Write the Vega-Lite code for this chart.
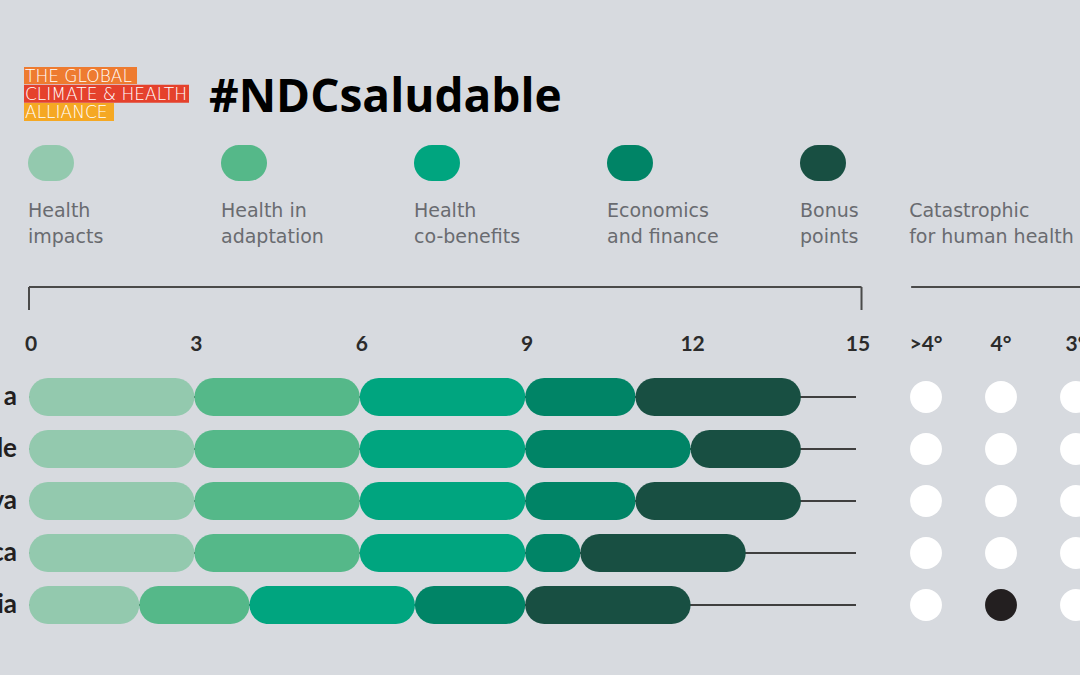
{
  "$schema": "https://vega.github.io/schema/vega-lite/v6.json",
  "width": 1080,
  "height": 675,
  "autosize": {"type": "none"},
  "padding": 0,
  "background": "#D7DADF",
  "config": {"view": {"stroke": "transparent"}, "font": "Lato"},
  "datasets": {
    "scores": [
      {"country": "a", "cat": "Health impacts", "k": 1, "value": 3},
      {"country": "a", "cat": "Health in adaptation", "k": 2, "value": 3},
      {"country": "a", "cat": "Health co-benefits", "k": 3, "value": 3},
      {"country": "a", "cat": "Economics and finance", "k": 4, "value": 2},
      {"country": "a", "cat": "Bonus points", "k": 5, "value": 3},
      {"country": "le", "cat": "Health impacts", "k": 1, "value": 3},
      {"country": "le", "cat": "Health in adaptation", "k": 2, "value": 3},
      {"country": "le", "cat": "Health co-benefits", "k": 3, "value": 3},
      {"country": "le", "cat": "Economics and finance", "k": 4, "value": 3},
      {"country": "le", "cat": "Bonus points", "k": 5, "value": 2},
      {"country": "va", "cat": "Health impacts", "k": 1, "value": 3},
      {"country": "va", "cat": "Health in adaptation", "k": 2, "value": 3},
      {"country": "va", "cat": "Health co-benefits", "k": 3, "value": 3},
      {"country": "va", "cat": "Economics and finance", "k": 4, "value": 2},
      {"country": "va", "cat": "Bonus points", "k": 5, "value": 3},
      {"country": "ca", "cat": "Health impacts", "k": 1, "value": 3},
      {"country": "ca", "cat": "Health in adaptation", "k": 2, "value": 3},
      {"country": "ca", "cat": "Health co-benefits", "k": 3, "value": 3},
      {"country": "ca", "cat": "Economics and finance", "k": 4, "value": 1},
      {"country": "ca", "cat": "Bonus points", "k": 5, "value": 3},
      {"country": "ia", "cat": "Health impacts", "k": 1, "value": 2},
      {"country": "ia", "cat": "Health in adaptation", "k": 2, "value": 2},
      {"country": "ia", "cat": "Health co-benefits", "k": 3, "value": 3},
      {"country": "ia", "cat": "Economics and finance", "k": 4, "value": 2},
      {"country": "ia", "cat": "Bonus points", "k": 5, "value": 3}
    ],
    "countries": [
      {"country": "a"}, {"country": "le"}, {"country": "va"}, {"country": "ca"}, {"country": "ia"}
    ],
    "ticks": [{"tick": 0}, {"tick": 3}, {"tick": 6}, {"tick": 9}, {"tick": 12}, {"tick": 15}],
    "temps": [{"temp": ">4°"}, {"temp": "4°"}, {"temp": "3°"}],
    "dots": [
      {"country": "a", "temp": ">4°", "catastrophic": false},
      {"country": "a", "temp": "4°", "catastrophic": false},
      {"country": "a", "temp": "3°", "catastrophic": false},
      {"country": "le", "temp": ">4°", "catastrophic": false},
      {"country": "le", "temp": "4°", "catastrophic": false},
      {"country": "le", "temp": "3°", "catastrophic": false},
      {"country": "va", "temp": ">4°", "catastrophic": false},
      {"country": "va", "temp": "4°", "catastrophic": false},
      {"country": "va", "temp": "3°", "catastrophic": false},
      {"country": "ca", "temp": ">4°", "catastrophic": false},
      {"country": "ca", "temp": "4°", "catastrophic": false},
      {"country": "ca", "temp": "3°", "catastrophic": false},
      {"country": "ia", "temp": ">4°", "catastrophic": false},
      {"country": "ia", "temp": "4°", "catastrophic": true},
      {"country": "ia", "temp": "3°", "catastrophic": false}
    ],
    "legend": [
      {"cat": "Health impacts", "label": "Health\nimpacts"},
      {"cat": "Health in adaptation", "label": "Health in\nadaptation"},
      {"cat": "Health co-benefits", "label": "Health\nco-benefits"},
      {"cat": "Economics and finance", "label": "Economics\nand finance"},
      {"cat": "Bonus points", "label": "Bonus\npoints"}
    ],
    "logo": [
      {"line": "THE GLOBAL"},
      {"line": "CLIMATE & HEALTH"},
      {"line": "ALLIANCE"}
    ]
  },
  "resolve": {"scale": {"x": "independent", "y": "independent", "color": "independent"}},
  "layer": [
    {
      "data": {"values": [{}]},
      "mark": {"type": "rule", "stroke": "#4a4a4a", "strokeWidth": 2},
      "encoding": {
        "x": {"datum": 0, "type": "quantitative", "scale": {"domain": [0, 15], "range": [29, 856], "nice": false, "zero": false}, "axis": null},
        "x2": {"datum": 15.1},
        "y": {"datum": 0, "type": "quantitative", "scale": {"domain": [0, 1], "range": [287, 310], "nice": false, "zero": false}, "axis": null}
      }
    },
    {
      "data": {"values": [{}]},
      "mark": {"type": "rule", "stroke": "#4a4a4a", "strokeWidth": 2},
      "encoding": {
        "x": {"datum": 0, "type": "quantitative", "scale": {"domain": [0, 15], "range": [29, 856], "nice": false, "zero": false}, "axis": null},
        "y": {"datum": 0, "type": "quantitative", "scale": {"domain": [0, 1], "range": [287, 310], "nice": false, "zero": false}, "axis": null},
        "y2": {"datum": 1}
      }
    },
    {
      "data": {"values": [{}]},
      "mark": {"type": "rule", "stroke": "#4a4a4a", "strokeWidth": 2},
      "encoding": {
        "x": {"datum": 15.1, "type": "quantitative", "scale": {"domain": [0, 15], "range": [29, 856], "nice": false, "zero": false}, "axis": null},
        "y": {"datum": 0, "type": "quantitative", "scale": {"domain": [0, 1], "range": [287, 310], "nice": false, "zero": false}, "axis": null},
        "y2": {"datum": 1}
      }
    },
    {
      "data": {"values": [{}]},
      "mark": {"type": "rule", "stroke": "#4a4a4a", "strokeWidth": 2},
      "encoding": {
        "x": {"datum": 16, "type": "quantitative", "scale": {"domain": [0, 15], "range": [29, 856], "nice": false, "zero": false}, "axis": null},
        "x2": {"datum": 19.5},
        "y": {"datum": 0, "type": "quantitative", "scale": {"domain": [0, 1], "range": [287, 310], "nice": false, "zero": false}, "axis": null}
      }
    },
    {
      "data": {"name": "countries"},
      "mark": {"type": "rule", "stroke": "#3f3f3f", "strokeWidth": 2},
      "encoding": {
        "x": {"datum": 0, "type": "quantitative", "scale": {"domain": [0, 15], "range": [29, 856], "nice": false, "zero": false}, "axis": null},
        "x2": {"datum": 15},
        "y": {"field": "country", "type": "nominal", "scale": {"type": "point", "domain": ["header", "a", "le", "va", "ca", "ia"], "range": [345, 605], "padding": 0}, "axis": null}
      }
    },
    {
      "data": {"name": "scores"},
      "transform": [
        {"stack": "value", "groupby": ["country"], "sort": [{"field": "k", "order": "ascending"}], "as": ["start", "end"]}
      ],
      "mark": {"type": "bar", "size": 38, "cornerRadius": 19},
      "encoding": {
        "x": {"field": "start", "type": "quantitative", "stack": null, "scale": {"domain": [0, 15], "range": [29, 856], "nice": false, "zero": false}, "axis": null},
        "x2": {"field": "end"},
        "y": {"field": "country", "type": "nominal", "scale": {"type": "point", "domain": ["header", "a", "le", "va", "ca", "ia"], "range": [345, 605], "padding": 0}, "axis": null},
        "color": {"field": "cat", "type": "nominal", "scale": {"domain": ["Health impacts", "Health in adaptation", "Health co-benefits", "Economics and finance", "Bonus points"], "range": ["#93C9AE", "#55B889", "#00A57F", "#008466", "#184F42"]}, "legend": null}
      }
    },
    {
      "data": {"name": "ticks"},
      "mark": {"type": "text", "font": "Lato", "fontWeight": "bold", "fontSize": 21, "color": "#2b2b2b", "align": "center", "baseline": "middle", "dx": 2},
      "encoding": {
        "x": {"field": "tick", "type": "quantitative", "scale": {"domain": [0, 15], "range": [29, 856], "nice": false, "zero": false}, "axis": null},
        "y": {"datum": "header", "type": "nominal", "scale": {"type": "point", "domain": ["header", "a", "le", "va", "ca", "ia"], "range": [345, 605], "padding": 0}, "axis": null},
        "text": {"field": "tick", "type": "quantitative", "format": "d"}
      }
    },
    {
      "data": {"name": "countries"},
      "mark": {"type": "text", "font": "Lato", "fontWeight": "bold", "fontSize": 26, "color": "#231F20", "align": "right", "baseline": "middle", "dx": -12},
      "encoding": {
        "x": {"datum": 0, "type": "quantitative", "scale": {"domain": [0, 15], "range": [29, 856], "nice": false, "zero": false}, "axis": null},
        "y": {"field": "country", "type": "nominal", "scale": {"type": "point", "domain": ["header", "a", "le", "va", "ca", "ia"], "range": [345, 605], "padding": 0}, "axis": null},
        "text": {"field": "country", "type": "nominal"}
      }
    },
    {
      "data": {"name": "temps"},
      "mark": {"type": "text", "font": "Lato", "fontWeight": "bold", "fontSize": 21, "color": "#2b2b2b", "align": "center", "baseline": "middle"},
      "encoding": {
        "x": {"field": "temp", "type": "nominal", "scale": {"type": "point", "domain": [">4°", "4°", "3°"], "range": [926, 1076], "padding": 0}, "axis": null},
        "y": {"datum": "header", "type": "nominal", "scale": {"type": "point", "domain": ["header", "a", "le", "va", "ca", "ia"], "range": [345, 605], "padding": 0}, "axis": null},
        "text": {"field": "temp", "type": "nominal"}
      }
    },
    {
      "data": {"name": "dots"},
      "mark": {"type": "point", "shape": "circle", "filled": true, "opacity": 1, "size": 1018, "strokeWidth": 0},
      "encoding": {
        "x": {"field": "temp", "type": "nominal", "scale": {"type": "point", "domain": [">4°", "4°", "3°"], "range": [926, 1076], "padding": 0}, "axis": null},
        "y": {"field": "country", "type": "nominal", "scale": {"type": "point", "domain": ["header", "a", "le", "va", "ca", "ia"], "range": [345, 605], "padding": 0}, "axis": null},
        "color": {"condition": {"test": "datum.catastrophic === true", "value": "#231F20"}, "value": "#FFFFFF"}
      }
    },
    {
      "data": {"name": "legend"},
      "mark": {"type": "point", "shape": "M-0.278,-1L0.278,-1A1,1,0,0,1,0.278,1L-0.278,1A1,1,0,0,1,-0.278,-1Z", "filled": true, "opacity": 1, "size": 1296, "strokeWidth": 0},
      "encoding": {
        "x": {"field": "cat", "type": "nominal", "scale": {"type": "point", "domain": ["Health impacts", "Health in adaptation", "Health co-benefits", "Economics and finance", "Bonus points"], "range": [51, 823], "padding": 0}, "axis": null},
        "y": {"datum": "swatch", "type": "nominal", "scale": {"type": "point", "domain": ["swatch", "label"], "range": [163, 217], "padding": 0}, "axis": null},
        "color": {"field": "cat", "type": "nominal", "scale": {"domain": ["Health impacts", "Health in adaptation", "Health co-benefits", "Economics and finance", "Bonus points"], "range": ["#93C9AE", "#55B889", "#00A57F", "#008466", "#184F42"]}, "legend": null}
      }
    },
    {
      "data": {"name": "legend"},
      "mark": {"type": "text", "font": "DejaVu Sans", "fontSize": 19, "color": "#696b70", "align": "left", "baseline": "alphabetic", "lineBreak": "\n", "lineHeight": 26, "dx": -23},
      "encoding": {
        "x": {"field": "cat", "type": "nominal", "scale": {"type": "point", "domain": ["Health impacts", "Health in adaptation", "Health co-benefits", "Economics and finance", "Bonus points"], "range": [51, 823], "padding": 0}, "axis": null},
        "y": {"datum": "label", "type": "nominal", "scale": {"type": "point", "domain": ["swatch", "label"], "range": [163, 217], "padding": 0}, "axis": null},
        "text": {"field": "label", "type": "nominal"}
      }
    },
    {
      "data": {"values": [{"label": "Catastrophic\nfor human health"}]},
      "mark": {"type": "text", "font": "DejaVu Sans", "fontSize": 19, "color": "#696b70", "align": "left", "baseline": "alphabetic", "lineBreak": "\n", "lineHeight": 26, "dx": -2},
      "encoding": {
        "x": {"datum": 16, "type": "quantitative", "scale": {"domain": [0, 15], "range": [29, 856], "nice": false, "zero": false}, "axis": null},
        "y": {"datum": "label", "type": "nominal", "scale": {"type": "point", "domain": ["swatch", "label"], "range": [163, 217], "padding": 0}, "axis": null},
        "text": {"field": "label", "type": "nominal"}
      }
    },
    {
      "data": {"name": "logo"},
      "transform": [{"filter": "datum.line === 'THE GLOBAL'"}],
      "mark": {"type": "bar", "size": 17},
      "encoding": {
        "x": {"datum": 0, "type": "quantitative", "scale": {"domain": [0, 166], "range": [24, 190], "nice": false, "zero": false}, "axis": null},
        "x2": {"datum": 113},
        "y": {"field": "line", "type": "nominal", "scale": {"type": "point", "domain": ["THE GLOBAL", "CLIMATE & HEALTH", "ALLIANCE"], "range": [75.5, 112], "padding": 0}, "axis": null},
        "color": {"field": "line", "type": "nominal", "scale": {"domain": ["THE GLOBAL", "CLIMATE & HEALTH", "ALLIANCE"], "range": ["#EE7B30", "#E5412C", "#F5A823"]}, "legend": null}
      }
    },
    {
      "data": {"name": "logo"},
      "transform": [{"filter": "datum.line === 'CLIMATE & HEALTH'"}],
      "mark": {"type": "bar", "size": 18},
      "encoding": {
        "x": {"datum": 0, "type": "quantitative", "scale": {"domain": [0, 166], "range": [24, 190], "nice": false, "zero": false}, "axis": null},
        "x2": {"datum": 165},
        "y": {"field": "line", "type": "nominal", "scale": {"type": "point", "domain": ["THE GLOBAL", "CLIMATE & HEALTH", "ALLIANCE"], "range": [75.5, 112], "padding": 0}, "axis": null},
        "color": {"field": "line", "type": "nominal", "scale": {"domain": ["THE GLOBAL", "CLIMATE & HEALTH", "ALLIANCE"], "range": ["#EE7B30", "#E5412C", "#F5A823"]}, "legend": null}
      }
    },
    {
      "data": {"name": "logo"},
      "transform": [{"filter": "datum.line === 'ALLIANCE'"}],
      "mark": {"type": "bar", "size": 18},
      "encoding": {
        "x": {"datum": 0, "type": "quantitative", "scale": {"domain": [0, 166], "range": [24, 190], "nice": false, "zero": false}, "axis": null},
        "x2": {"datum": 90},
        "y": {"field": "line", "type": "nominal", "scale": {"type": "point", "domain": ["THE GLOBAL", "CLIMATE & HEALTH", "ALLIANCE"], "range": [75.5, 112], "padding": 0}, "axis": null},
        "color": {"field": "line", "type": "nominal", "scale": {"domain": ["THE GLOBAL", "CLIMATE & HEALTH", "ALLIANCE"], "range": ["#EE7B30", "#E5412C", "#F5A823"]}, "legend": null}
      }
    },
    {
      "data": {"name": "logo"},
      "mark": {"type": "text", "font": "DejaVu Sans", "fontWeight": 200, "fontSize": 17, "color": "#FFFFFF", "align": "left", "baseline": "middle", "dx": 1, "dy": 1},
      "encoding": {
        "x": {"datum": 0, "type": "quantitative", "scale": {"domain": [0, 166], "range": [24, 190], "nice": false, "zero": false}, "axis": null},
        "y": {"field": "line", "type": "nominal", "scale": {"type": "point", "domain": ["THE GLOBAL", "CLIMATE & HEALTH", "ALLIANCE"], "range": [75.5, 112], "padding": 0}, "axis": null},
        "text": {"field": "line", "type": "nominal"}
      }
    },
    {
      "data": {"values": [{"title": "#NDCsaludable"}]},
      "mark": {"type": "text", "font": "Open Sans", "fontWeight": "bold", "fontSize": 46, "color": "#000000", "align": "left", "baseline": "alphabetic"},
      "encoding": {
        "x": {"datum": 185, "type": "quantitative", "scale": {"domain": [0, 166], "range": [24, 190], "nice": false, "zero": false}, "axis": null},
        "y": {"datum": "ALLIANCE", "type": "nominal", "scale": {"type": "point", "domain": ["THE GLOBAL", "CLIMATE & HEALTH", "ALLIANCE"], "range": [75.5, 112], "padding": 0}, "axis": null},
        "text": {"field": "title", "type": "nominal"}
      }
    }
  ]
}
